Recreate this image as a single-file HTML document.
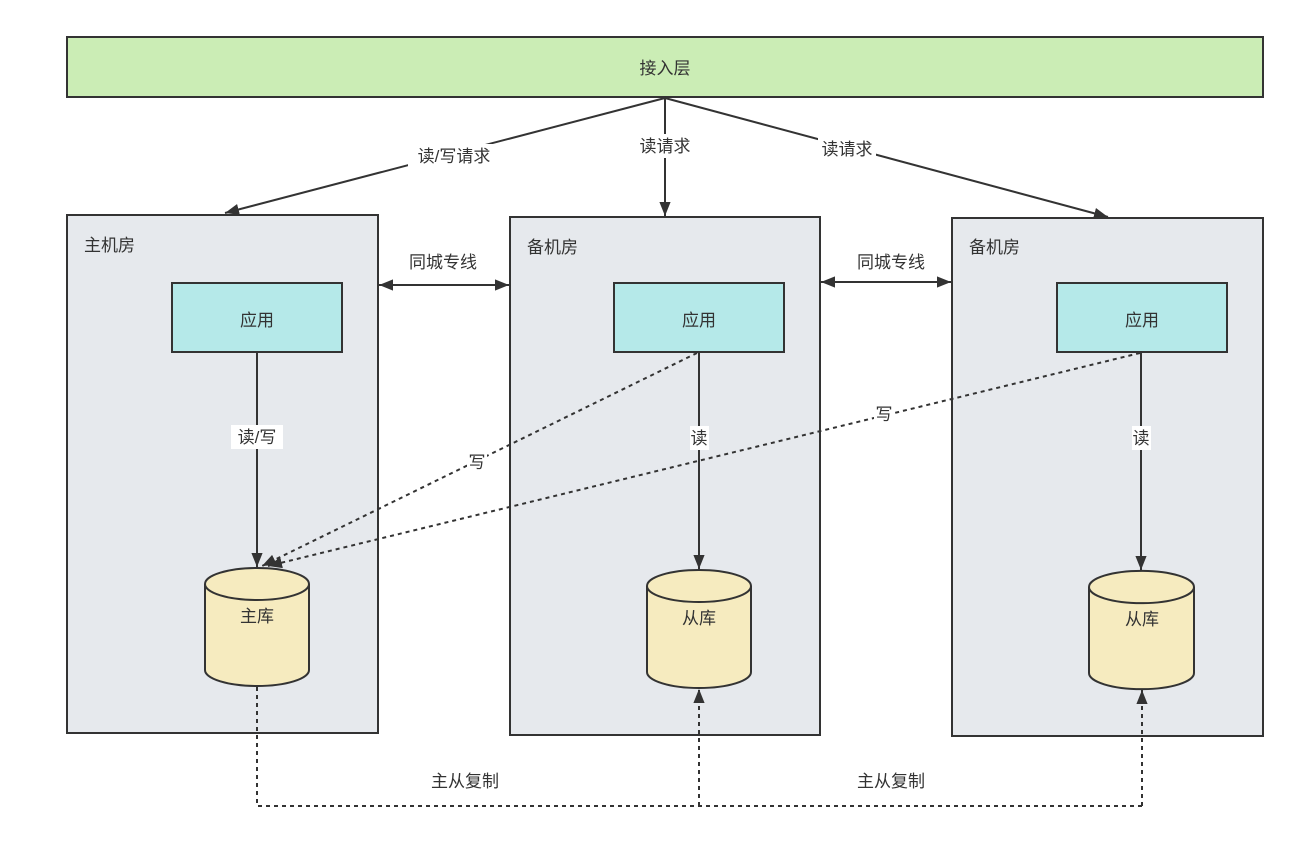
<!DOCTYPE html>
<html><head><meta charset="utf-8"><style>
html,body{margin:0;padding:0;background:#fff;}
svg{display:block;}
text{font-family:"Liberation Sans","Noto Sans CJK SC",sans-serif;font-size:17px;fill:#333;}
.lb{fill:#fff;}
</style></head><body>
<svg width="1300" height="847" viewBox="0 0 1300 847" xmlns="http://www.w3.org/2000/svg">
<defs>
<marker id="a" viewBox="0 0 10 10" refX="10" refY="5" markerWidth="8" markerHeight="8" orient="auto-start-reverse" markerUnits="userSpaceOnUse"><path d="M0,0 L10,5 L0,10 z" fill="#333"/></marker>
<marker id="b" viewBox="0 0 10 10" refX="10" refY="5" markerWidth="14" markerHeight="14" orient="auto-start-reverse" markerUnits="userSpaceOnUse"><path d="M0,1 L10,5 L0,9 z" fill="#333"/></marker>
</defs>
<rect x="67" y="37" width="1196" height="60" fill="#cbedb5" stroke="#333" stroke-width="2"/>
<text x="665" y="74" text-anchor="middle">接入层</text>

<rect x="67" y="215" width="311" height="518" fill="#e6e9ed" stroke="#333" stroke-width="2"/>
<rect x="510" y="217" width="310" height="518" fill="#e6e9ed" stroke="#333" stroke-width="2"/>
<rect x="952" y="218" width="311" height="518" fill="#e6e9ed" stroke="#333" stroke-width="2"/>
<text x="84" y="251">主机房</text>
<text x="527" y="253">备机房</text>
<text x="969" y="253">备机房</text>

<rect x="172" y="283" width="170" height="69" fill="#b5e9e9" stroke="#333" stroke-width="2"/>
<rect x="614" y="283" width="170" height="69" fill="#b5e9e9" stroke="#333" stroke-width="2"/>
<rect x="1057" y="283" width="170" height="69" fill="#b5e9e9" stroke="#333" stroke-width="2"/>
<text x="257" y="326" text-anchor="middle">应用</text>
<text x="699" y="326" text-anchor="middle">应用</text>
<text x="1142" y="326" text-anchor="middle">应用</text>

<g fill="#f6ebbf" stroke="#333" stroke-width="2">
<path d="M205,584 A52,16 0 0 1 309,584 L309,670 A52,16 0 0 1 205,670 Z"/><path d="M205,584 A52,16 0 0 0 309,584" fill="none"/>
<path d="M647,586 A52,16 0 0 1 751,586 L751,672 A52,16 0 0 1 647,672 Z"/><path d="M647,586 A52,16 0 0 0 751,586" fill="none"/>
<path d="M1089,587 A52,16 0 0 1 1194,587 L1194,673 A52,16 0 0 1 1089,673 Z"/><path d="M1089,587 A52,16 0 0 0 1194,587" fill="none"/>
</g>
<text x="257" y="622" text-anchor="middle">主库</text>
<text x="699" y="624" text-anchor="middle">从库</text>
<text x="1142" y="625" text-anchor="middle">从库</text>

<g stroke="#333" stroke-width="2" fill="none">
<line x1="665" y1="98" x2="225" y2="213" marker-end="url(#b)"/>
<line x1="665" y1="98" x2="665" y2="216" marker-end="url(#b)"/>
<line x1="665" y1="98" x2="1108" y2="217" marker-end="url(#b)"/>
<line x1="379" y1="285" x2="509" y2="285" marker-start="url(#b)" marker-end="url(#b)"/>
<line x1="821" y1="282" x2="951" y2="282" marker-start="url(#b)" marker-end="url(#b)"/>
<line x1="257" y1="352" x2="257" y2="567" marker-end="url(#b)"/>
<line x1="699" y1="352" x2="699" y2="569" marker-end="url(#b)"/>
<line x1="1141" y1="352" x2="1141" y2="570" marker-end="url(#b)"/>
</g>
<g stroke="#333" stroke-width="2" fill="none" stroke-dasharray="4,4">
<line x1="697" y1="353" x2="262" y2="566" marker-end="url(#b)"/>
<line x1="1140" y1="353" x2="268" y2="566" marker-end="url(#b)"/>
<polyline points="257,687 257,806 1142,806"/>
<line x1="699" y1="806" x2="699" y2="689" marker-end="url(#b)"/>
<line x1="1142" y1="806" x2="1142" y2="690" marker-end="url(#b)"/>
</g>

<rect class="lb" x="408" y="144" width="92" height="24"/><text x="454" y="162" text-anchor="middle">读/写请求</text>
<rect class="lb" x="636" y="134" width="60" height="24"/><text x="665" y="152" text-anchor="middle">读请求</text>
<rect class="lb" x="818" y="137" width="58" height="24"/><text x="847" y="155" text-anchor="middle">读请求</text>
<text x="443" y="268" text-anchor="middle">同城专线</text>
<text x="891" y="268" text-anchor="middle">同城专线</text>
<rect class="lb" x="231" y="425" width="52" height="24" fill="#e6e9ed" style="fill:#fff"/><text x="257" y="443" text-anchor="middle">读/写</text>
<rect class="lb" x="690" y="426" width="19" height="24"/><text x="699" y="444" text-anchor="middle">读</text>
<rect class="lb" x="1132" y="426" width="19" height="24"/><text x="1141" y="444" text-anchor="middle">读</text>
<rect class="lb" x="467" y="450" width="20" height="24"/><text x="477" y="468" text-anchor="middle">写</text>
<rect class="lb" x="874" y="403" width="20" height="24"/><text x="884" y="420" text-anchor="middle">写</text>
<text x="465" y="787" text-anchor="middle">主从复制</text>
<text x="891" y="787" text-anchor="middle">主从复制</text>
</svg>
</body></html>
